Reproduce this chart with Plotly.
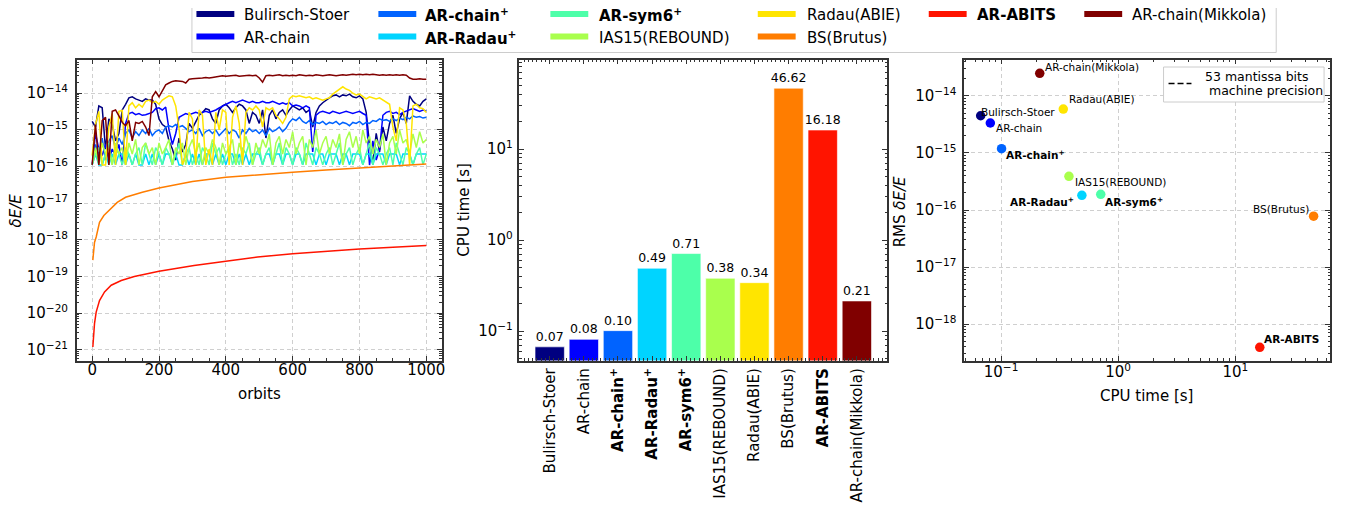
import math
import plotly.graph_objects as go

# page offset of the plot inside the browser window (default body margin)
OFF = 8
W, H = 1352, 509
FW, FH = W - OFF, H - OFF

# ---------------- data ----------------
methods = ["Bulirsch-Stoer", "AR-chain", "AR-chain+", "AR-Radau+", "AR-sym6+",
           "IAS15(REBOUND)", "Radau(ABIE)", "BS(Brutus)", "AR-ABITS", "AR-chain(Mikkola)"]
method_labels = ["Bulirsch-Stoer", "AR-chain", "<b>AR-chain<sup>+</sup></b>",
                 "<b>AR-Radau<sup>+</sup></b>", "<b>AR-sym6<sup>+</sup></b>",
                 "IAS15(REBOUND)", "Radau(ABIE)", "BS(Brutus)", "<b>AR-ABITS</b>",
                 "AR-chain(Mikkola)"]
colors = ["#000080", "#0000ff", "#0063ff", "#00d4ff", "#4dffa9",
          "#a9ff4d", "#ffe500", "#ff7d00", "#ff1400", "#800000"]

cpu_time = [0.067, 0.081, 0.101, 0.49, 0.71, 0.38, 0.34, 46.62, 16.18, 0.214]
rms_energy_error = [4.5e-15, 3.36e-15, 1.19e-15, 1.81e-16, 1.88e-16,
                    3.9e-16, 5.9e-15, 7.8e-17, 3.9e-19, 2.5e-14]
machine_precision = 1.11e-16

orbits = list(range(0, 1001, 10))

err_bulirsch_stoer = [
    1.7e-15, 1.2e-15, 4.5e-15, 4.0e-15, 3.0e-16, 2.0e-15, 1.4e-15, 5.0e-16, 8.0e-16, 3.5e-15,
    5.0e-15, 7.5e-15, 8.0e-15, 7.0e-15, 6.5e-15, 6.0e-15, 7.0e-15, 6.5e-15, 6.5e-15, 5.0e-15,
    2.0e-15, 1.4e-15, 1.2e-15, 5.0e-16, 3.0e-16, 1.5e-16, 6.0e-16, 2.5e-16, 4.0e-16, 1.5e-15,
    1.1e-15, 1.6e-15, 2.5e-15, 3.0e-15, 3.8e-15, 3.5e-15, 2.0e-15, 1.5e-15, 3.5e-15, 4.5e-15,
    5.0e-15, 4.0e-15, 3.0e-15, 4.0e-15, 5.0e-15, 4.5e-15, 3.5e-15, 1.5e-15, 3.0e-15, 2.5e-15,
    1.5e-15, 3.5e-15, 6.0e-16, 2.5e-15, 3.5e-15, 2.0e-15, 3.0e-15, 3.5e-15, 2.5e-15, 3.5e-15,
    4.5e-15, 4.0e-15, 3.5e-15, 4.0e-15, 3.0e-15, 3.5e-15, 1.2e-15, 3.0e-15, 4.5e-15, 5.5e-15,
    6.5e-15, 7.5e-15, 8.5e-15, 9.0e-15, 8.0e-15, 9.0e-15, 8.5e-15, 9.5e-15, 8.0e-15, 7.5e-15,
    8.5e-15, 7.0e-15, 3.0e-15, 4.0e-16, 1.2e-16, 8.0e-16, 2.5e-16, 1.2e-15, 5.0e-16, 1.5e-15,
    2.5e-15, 8.0e-16, 2.0e-15, 3.0e-15, 1.5e-15, 8.5e-15, 6.0e-15, 5.0e-15, 4.5e-15, 6.0e-15,
    7.0e-15]

err_ar_chain = [
    1.1e-16, 8.0e-16, 3.0e-16, 2.0e-16, 4.0e-16, 1.5e-16, 3.0e-16, 2.0e-16, 4.0e-16, 1.1e-16,
    1.5e-15, 2.8e-15, 3.0e-15, 2.6e-15, 2.8e-15, 2.5e-15, 2.6e-15, 2.8e-15, 3.0e-15, 3.8e-15,
    4.0e-15, 3.5e-15, 4.2e-15, 1.0e-15, 4.0e-16, 8.0e-16, 2.2e-15, 2.5e-15, 2.8e-15, 2.6e-15,
    2.8e-15, 3.0e-15, 2.8e-15, 3.0e-15, 3.2e-15, 3.0e-15, 3.2e-15, 3.5e-15, 4.0e-15, 4.5e-15,
    5.0e-15, 5.5e-15, 6.0e-15, 5.5e-15, 6.0e-15, 6.5e-15, 6.0e-15, 5.5e-15, 6.0e-15, 5.5e-15,
    5.5e-15, 6.0e-15, 5.5e-15, 5.5e-15, 6.0e-15, 5.5e-15, 5.0e-15, 5.5e-15, 5.0e-15, 5.5e-15,
    4.5e-15, 4.8e-15, 4.5e-15, 4.0e-15, 4.5e-15, 4.0e-15, 2.5e-16, 2.5e-15, 3.0e-15, 3.2e-15,
    3.0e-15, 2.8e-15, 3.2e-15, 3.0e-15, 2.8e-15, 3.0e-15, 3.2e-15, 3.0e-15, 2.8e-15, 3.0e-15,
    3.2e-15, 2.8e-15, 2.5e-15, 1.1e-16, 5.0e-16, 1.5e-16, 3.0e-16, 2.5e-15, 3.0e-15, 3.2e-15,
    2.8e-15, 3.0e-15, 2.6e-15, 3.0e-15, 3.2e-15, 3.5e-15, 3.8e-15, 3.5e-15, 3.2e-15, 3.5e-15,
    3.3e-15]

err_ar_chain_plus = [
    1.1e-16, 4.0e-16, 2.0e-16, 6.0e-16, 1.5e-16, 5.0e-16, 7.0e-16, 3.0e-16, 6.0e-16, 4.0e-16,
    8.0e-16, 1.0e-15, 6.0e-16, 9.0e-16, 7.0e-16, 1.0e-15, 8.0e-16, 1.1e-15, 7.0e-16, 9.0e-16,
    1.0e-15, 8.0e-16, 1.2e-15, 1.3e-15, 1.2e-15, 1.4e-15, 1.2e-15, 1.3e-15, 1.1e-15, 9.0e-16,
    1.0e-15, 8.0e-16, 1.1e-15, 7.0e-16, 9.0e-16, 1.0e-15, 8.0e-16, 1.0e-15, 7.0e-16, 9.0e-16,
    1.1e-15, 8.0e-16, 1.0e-15, 9.0e-16, 6.0e-16, 1.0e-15, 8.0e-16, 1.1e-15, 9.0e-16, 1.0e-15,
    8.0e-16, 1.0e-15, 7.0e-16, 1.1e-15, 9.0e-16, 1.0e-15, 1.2e-15, 9.0e-16, 1.1e-15, 1.6e-15,
    2.0e-15, 1.8e-15, 2.2e-15, 1.7e-15, 1.5e-15, 1.8e-15, 1.4e-15, 1.6e-15, 1.5e-15, 1.7e-15,
    1.4e-15, 1.6e-15, 1.5e-15, 1.7e-15, 1.4e-15, 1.6e-15, 1.5e-15, 1.3e-15, 1.6e-15, 1.5e-15,
    1.7e-15, 1.4e-15, 1.6e-15, 1.5e-15, 1.8e-15, 1.7e-15, 2.0e-15, 1.8e-15, 1.9e-15, 1.7e-15,
    2.0e-15, 1.8e-15, 2.1e-15, 1.9e-15, 2.2e-15, 2.0e-15, 2.4e-15, 2.2e-15, 2.3e-15, 2.1e-15,
    2.2e-15]

err_ar_radau_plus = [
    1.11e-16, 2.2e-16, 1.11e-16, 1.11e-16, 2.2e-16, 1.11e-16, 2.2e-16, 1.11e-16, 2.2e-16, 2.2e-16,
    1.11e-16, 2.2e-16, 1.11e-16, 2.2e-16, 1.11e-16, 1.11e-16, 2.2e-16, 1.11e-16, 2.2e-16, 1.11e-16,
    2.2e-16, 1.11e-16, 2.2e-16, 2.2e-16, 1.11e-16, 2.2e-16, 1.11e-16, 1.11e-16, 2.2e-16, 1.11e-16,
    2.2e-16, 1.11e-16, 2.2e-16, 1.11e-16, 2.2e-16, 2.2e-16, 1.11e-16, 2.2e-16, 1.11e-16, 2.2e-16,
    1.11e-16, 2.2e-16, 2.2e-16, 1.11e-16, 2.2e-16, 1.11e-16, 2.2e-16, 1.11e-16, 2.2e-16, 2.2e-16,
    2.2e-16, 1.11e-16, 2.2e-16, 2.2e-16, 1.11e-16, 2.2e-16, 2.2e-16, 1.11e-16, 2.2e-16, 2.2e-16,
    1.11e-16, 2.2e-16, 2.2e-16, 1.11e-16, 2.2e-16, 2.2e-16, 2.2e-16, 1.11e-16, 2.2e-16, 2.2e-16,
    1.11e-16, 2.2e-16, 2.2e-16, 2.2e-16, 1.11e-16, 2.2e-16, 2.2e-16, 1.11e-16, 2.2e-16, 2.2e-16,
    2.2e-16, 1.11e-16, 2.2e-16, 2.2e-16, 1.11e-16, 2.2e-16, 2.2e-16, 2.2e-16, 1.11e-16, 2.2e-16,
    2.2e-16, 2.2e-16, 1.11e-16, 2.2e-16, 2.2e-16, 2.2e-16, 1.11e-16, 2.2e-16, 2.2e-16, 2.2e-16,
    2.2e-16]

err_ar_sym6_plus = [
    1.11e-16, 2.2e-16, 3.3e-16, 1.11e-16, 2.2e-16, 4.4e-16, 1.11e-16, 3.3e-16, 2.2e-16, 1.11e-16,
    3.3e-16, 2.2e-16, 1.11e-16, 2.2e-16, 3.3e-16, 1.11e-16, 4.4e-16, 2.2e-16, 1.11e-16, 3.3e-16,
    2.2e-16, 1.11e-16, 3.3e-16, 2.2e-16, 1.11e-16, 2.2e-16, 4.4e-16, 1.11e-16, 2.2e-16, 3.3e-16,
    1.11e-16, 2.2e-16, 1.11e-16, 3.3e-16, 2.2e-16, 1.11e-16, 4.4e-16, 2.2e-16, 3.3e-16, 1.11e-16,
    2.2e-16, 3.3e-16, 1.11e-16, 2.2e-16, 1.11e-16, 3.3e-16, 2.2e-16, 4.4e-16, 1.11e-16, 2.2e-16,
    3.3e-16, 1.11e-16, 2.2e-16, 3.3e-16, 1.11e-16, 2.2e-16, 4.4e-16, 1.11e-16, 3.3e-16, 2.2e-16,
    1.11e-16, 3.3e-16, 2.2e-16, 1.11e-16, 4.4e-16, 2.2e-16, 1.11e-16, 3.3e-16, 2.2e-16, 1.11e-16,
    2.2e-16, 3.3e-16, 1.11e-16, 2.2e-16, 4.4e-16, 1.11e-16, 2.2e-16, 3.3e-16, 1.11e-16, 2.2e-16,
    3.3e-16, 1.11e-16, 2.2e-16, 4.4e-16, 1.11e-16, 3.3e-16, 2.2e-16, 1.11e-16, 2.2e-16, 3.3e-16,
    1.11e-16, 4.4e-16, 2.2e-16, 1.11e-16, 3.3e-16, 2.2e-16, 1.11e-16, 2.2e-16, 3.3e-16, 1.11e-16,
    2.2e-16]

err_ias15 = [
    1.11e-16, 3.3e-16, 1.11e-16, 4.4e-16, 2.2e-16, 3.3e-16, 1.11e-16, 4.4e-16, 2.2e-16, 3.3e-16,
    1.11e-16, 4.4e-16, 2.2e-16, 5.5e-16, 1.11e-16, 3.3e-16, 4.4e-16, 2.2e-16, 3.3e-16, 1.11e-16,
    4.4e-16, 2.2e-16, 3.3e-16, 5.5e-16, 1.11e-16, 3.3e-16, 2.2e-16, 4.4e-16, 1.11e-16, 3.3e-16,
    5.5e-16, 2.2e-16, 4.4e-16, 1.11e-16, 3.3e-16, 2.2e-16, 5.5e-16, 3.3e-16, 1.11e-16, 4.4e-16,
    2.2e-16, 3.3e-16, 5.5e-16, 1.11e-16, 4.4e-16, 2.2e-16, 6.7e-16, 3.3e-16, 1.11e-16, 4.4e-16,
    2.2e-16, 5.5e-16, 3.3e-16, 7.8e-16, 1.11e-16, 4.4e-16, 6.7e-16, 2.2e-16, 5.5e-16, 3.3e-16,
    8.9e-16, 2.2e-16, 4.4e-16, 6.7e-16, 1.11e-16, 5.5e-16, 3.3e-16, 1.0e-15, 2.2e-16, 4.4e-16,
    6.7e-16, 2.2e-16, 5.5e-16, 3.3e-16, 7.8e-16, 1.11e-16, 5.5e-16, 8.9e-16, 3.3e-16, 6.7e-16,
    2.2e-16, 1.0e-15, 4.4e-16, 6.7e-16, 2.2e-16, 5.5e-16, 3.3e-16, 7.8e-16, 1.11e-16, 4.4e-16,
    6.7e-16, 2.2e-16, 1.0e-15, 4.4e-16, 5.5e-16, 2.2e-16, 7.8e-16, 3.3e-16, 8.9e-16, 4.4e-16,
    5.5e-16]

err_radau_abie = [
    2.0e-16, 1.4e-15, 3.2e-15, 1.11e-16, 1.11e-16, 1.2e-15, 2.8e-15, 1.11e-16, 3.2e-15, 3.4e-15,
    1.11e-16, 4.5e-15, 5.5e-15, 4.0e-15, 5.0e-15, 4.2e-15, 6.0e-15, 6.5e-15, 5.5e-15, 6.0e-15,
    5.0e-15, 6.5e-15, 7.5e-15, 8.5e-15, 8.0e-15, 4.5e-15, 1.1e-15, 1.11e-16, 2.0e-16, 3.0e-15,
    2.0e-15, 1.11e-16, 3.5e-15, 2.5e-15, 1.11e-16, 3.0e-16, 1.11e-16, 3.0e-15, 1.0e-15, 3.5e-15,
    3.0e-15, 1.11e-16, 2.2e-15, 4.5e-15, 1.5e-15, 1.11e-16, 3.0e-15, 4.0e-15, 3.5e-15, 4.5e-15,
    3.5e-15, 1.2e-15, 4.0e-15, 3.5e-15, 4.0e-15, 2.5e-15, 2.0e-15, 1.5e-15, 2.2e-15, 7.0e-15,
    8.5e-15, 8.0e-15, 8.5e-15, 8.0e-15, 7.5e-15, 8.0e-15, 7.0e-15, 7.5e-15, 7.0e-15, 6.5e-15,
    7.0e-15, 7.5e-15, 9.5e-15, 1.1e-14, 1.3e-14, 1.5e-14, 1.3e-14, 1.2e-14, 1.0e-14, 9.0e-15,
    9.5e-15, 8.0e-15, 7.0e-15, 8.0e-15, 7.5e-15, 7.0e-15, 7.5e-15, 6.5e-15, 5.5e-15, 5.0e-15,
    1.2e-15, 5.0e-16, 4.0e-15, 3.5e-15, 1.5e-15, 1.11e-16, 4.5e-15, 5.0e-15, 4.0e-15, 3.8e-15,
    3.0e-15]

err_mikkola = [
    1.11e-16, 1.4e-15, 1.11e-16, 1.8e-15, 2.2e-15, 1.11e-16, 3.2e-15, 3.5e-15, 2.4e-15, 1.6e-15,
    1.3e-15, 1.8e-15, 5.0e-16, 1.6e-15, 1.5e-15, 1.7e-15, 1.2e-15, 7.0e-16, 8.0e-15, 1.1e-14,
    8.0e-15, 1.2e-14, 1.7e-14, 1.9e-14, 2.1e-14, 2.2e-14, 2.2e-14, 2.1e-14, 1.9e-14, 2.4e-14,
    2.5e-14, 2.5e-14, 2.6e-14, 2.6e-14, 2.7e-14, 2.6e-14, 2.7e-14, 2.8e-14, 2.9e-14, 3.0e-14,
    2.9e-14, 3.0e-14, 3.0e-14, 3.1e-14, 2.9e-14, 3.0e-14, 3.0e-14, 3.1e-14, 3.0e-14, 3.1e-14,
    2.6e-14, 2.0e-14, 3.0e-14, 3.1e-14, 3.0e-14, 3.1e-14, 3.2e-14, 3.0e-14, 3.1e-14, 3.0e-14,
    3.1e-14, 3.0e-14, 3.2e-14, 3.1e-14, 3.0e-14, 3.1e-14, 3.0e-14, 3.2e-14, 3.1e-14, 3.0e-14,
    3.1e-14, 3.2e-14, 3.1e-14, 3.0e-14, 3.1e-14, 3.2e-14, 3.1e-14, 3.2e-14, 3.3e-14, 3.2e-14,
    3.3e-14, 3.2e-14, 3.3e-14, 3.2e-14, 3.3e-14, 3.2e-14, 3.1e-14, 3.2e-14, 3.1e-14, 3.2e-14,
    3.1e-14, 3.2e-14, 3.1e-14, 3.2e-14, 3.1e-14, 2.6e-14, 2.4e-14, 2.4e-14, 2.5e-14, 2.4e-14,
    2.4e-14]

brutus_orbits = [2, 4, 7, 12, 22, 35, 50, 75, 100, 150, 200, 300, 400, 500, 600, 700, 800, 900, 1000]
err_brutus = [2.8e-19, 5.5e-19, 8.5e-19, 1.2e-18, 3.0e-18, 4.6e-18, 6.3e-18, 1.05e-17, 1.45e-17,
              2.0e-17, 2.6e-17, 3.9e-17, 5.1e-17, 6.1e-17, 7.0e-17, 8.1e-17, 9.2e-17, 1.05e-16, 1.18e-16]

abits_orbits = [2, 4, 7, 12, 22, 37, 57, 87, 126, 200, 305, 400, 495, 600, 700, 800, 900, 1000]
err_abits = [1.2e-21, 2.2e-21, 5.2e-21, 1.07e-20, 2.2e-20, 3.8e-20, 5.8e-20, 7.8e-20, 1.0e-19,
             1.4e-19, 2.0e-19, 2.6e-19, 3.4e-19, 4.2e-19, 4.9e-19, 5.6e-19, 6.3e-19, 7.0e-19]

series = [err_bulirsch_stoer, err_ar_chain, err_ar_chain_plus, err_ar_radau_plus,
          err_ar_sym6_plus, err_ias15, err_radau_abie, err_brutus, err_abits, err_mikkola]
series_x = [orbits, orbits, orbits, orbits, orbits, orbits, orbits,
            brutus_orbits, abits_orbits, orbits]

# ---------------- helpers ----------------
FONT = "DejaVu Sans"


def px_x(px):
    return (px - OFF) / FW


def px_y(py):
    return 1 - (py - OFF) / FH


def log_ticks(lo, hi):
    major = [10.0 ** k for k in range(lo, hi + 1)]
    text = ["10<sup>%s</sup>" % str(k).replace("-", "\u2212") for k in range(lo, hi + 1)]
    minor = [m * 10.0 ** k for k in range(lo - 1, hi + 1) for m in range(2, 10)]
    return major, text, minor


fig = go.Figure()

# ---------------- left panel: energy error vs orbits ----------------
for i in range(len(methods)):
    fig.add_trace(go.Scatter(x=series_x[i], y=series[i], mode="lines",
                             line=dict(color=colors[i], width=1.5),
                             name=methods[i], xaxis="x", yaxis="y", showlegend=False))

# ---------------- middle panel: CPU time bars ----------------
fig.add_trace(go.Bar(x=list(range(len(methods))), y=cpu_time,
                     marker=dict(color=colors, line=dict(color="white", width=0.6)),
                     width=0.86, texttemplate="%{y:.2f}", textposition="outside",
                     textfont=dict(family=FONT, size=12.5, color="black"),
                     cliponaxis=False, constraintext="none",
                     xaxis="x2", yaxis="y2", showlegend=False))

# ---------------- right panel: RMS error vs CPU time ----------------
fig.add_trace(go.Scatter(x=cpu_time, y=rms_energy_error, mode="markers",
                         marker=dict(color=colors, size=9.5, line=dict(width=0)),
                         xaxis="x3", yaxis="y3", showlegend=False))

axis_common = dict(showline=True, linecolor="#333333", linewidth=1.5, mirror="allticks",
                   ticks="inside", ticklen=5, tickwidth=1, tickcolor="#333333",
                   showgrid=True, gridcolor="#cfcfcf", griddash="4px,3px", gridwidth=1,
                   zeroline=False, tickfont=dict(family=FONT, size=15, color="black"))
minor_log = lambda vals: dict(tickmode="array", tickvals=vals, ticks="inside", ticklen=2.5,
                              tickcolor="#333333", showgrid=False)

y1_major, y1_text, y1_minor = log_ticks(-21, -14)
y2_major, y2_text, y2_minor = log_ticks(-1, 1)
x3_major, x3_text, x3_minor = log_ticks(-1, 1)
y3_major, y3_text, y3_minor = log_ticks(-18, -14)

y_dom = [px_y(360.5), px_y(59.5)]

fig.update_layout(
    width=FW, height=FH, margin=dict(l=0, r=0, t=0, b=0),
    paper_bgcolor="white", plot_bgcolor="white", showlegend=False,
    font=dict(family=FONT, size=15, color="black"),
    xaxis=dict(axis_common, domain=[px_x(77), px_x(443)], range=[-46, 1046],
               tickmode="array", tickvals=[0, 200, 400, 600, 800, 1000],
               ticklabelstandoff=-5,
               minor=dict(tickmode="linear", tick0=0, dtick=50, ticks="inside", ticklen=2.5,
                          tickcolor="#333333", showgrid=False),
               anchor="y"),
    yaxis=dict(axis_common, domain=y_dom, type="log", range=[-21.29, -13.08],
               tickmode="array", tickvals=y1_major, ticktext=y1_text, ticklabelstandoff=4,
               minor=minor_log(y1_minor), anchor="x"),
    xaxis2=dict(axis_common, domain=[px_x(521), px_x(889.5)], range=[-0.886, 9.88],
                tickmode="array", tickvals=list(range(len(methods))), ticktext=method_labels,
                tickangle=-90, showgrid=False,
                minor=dict(tickmode="linear", tick0=0, dtick=0.125, ticks="inside", ticklen=2.5,
                           tickcolor="#333333", showgrid=False),
                anchor="y2"),
    yaxis2=dict(axis_common, domain=y_dom, type="log", range=[-1.324, 1.984],
                tickmode="array", tickvals=y2_major, ticktext=y2_text, showgrid=False,
                ticklabelstandoff=2, minor=minor_log(y2_minor), anchor="x2"),
    xaxis3=dict(axis_common, domain=[px_x(967), px_x(1334)], type="log", range=[-1.315, 1.809],
                tickmode="array", tickvals=x3_major, ticktext=x3_text, ticklabelstandoff=-3,
                minor=minor_log(x3_minor), anchor="y3"),
    yaxis3=dict(axis_common, domain=y_dom, type="log", range=[-18.64, -13.36],
                tickmode="array", tickvals=y3_major, ticktext=y3_text, ticklabelstandoff=3,
                minor=minor_log(y3_minor), anchor="x3"),
)

shapes = []
annotations = []

# machine precision lines
shapes.append(dict(type="line", xref="x domain", yref="y", x0=0, x1=1,
                   y0=math.log10(machine_precision), y1=math.log10(machine_precision),
                   line=dict(color="black", width=2, dash="6px,3px"), layer="above"))
shapes.append(dict(type="line", xref="x3 domain", yref="y3", x0=0, x1=1,
                   y0=math.log10(machine_precision), y1=math.log10(machine_precision),
                   line=dict(color="black", width=1.5, dash="6px,3px"), layer="above"))


def paper_text(text, x, y, size=15, angle=0, xanchor="center", yanchor="middle", align="center"):
    annotations.append(dict(text=text, x=px_x(x), y=px_y(y), xref="paper", yref="paper",
                            showarrow=False, textangle=angle, xanchor=xanchor, yanchor=yanchor,
                            align=align, font=dict(family=FONT, size=size, color="black")))


# axis titles
paper_text("<i>δE/E</i>", 16.5, 210, angle=-90)
paper_text("orbits", 260, 394)
paper_text("CPU time [s]", 465, 210, angle=-90)
paper_text("RMS <i>δE/E</i>", 903, 212, angle=-90)
paper_text("CPU time [s]", 1150, 396)

# scatter point labels (offsets in px)
label_offsets = [(-2, 3.4, "left"), (3.7, -5.3, "left"), (2.3, -5.6, "left"), (-6, -6.4, "right"),
                 (2.4, -7.4, "left"), (3.7, -5.7, "left"), (3.7, 9.7, "left"), (-2.3, 7.3, "right"),
                 (2.4, 8.6, "left"), (3.5, 6.6, "left")]
for i in range(len(methods)):
    dx, dy, anchor = label_offsets[i]
    annotations.append(dict(text=method_labels[i], x=math.log10(cpu_time[i]),
                            y=math.log10(rms_energy_error[i]), xref="x3", yref="y3",
                            showarrow=False, xanchor=anchor, yanchor="middle",
                            xshift=dx, yshift=dy,
                            font=dict(family=FONT, size=10.5, color="black")))

# inset legend of right panel
shapes.append(dict(type="rect", xref="paper", yref="paper", x0=px_x(1167), x1=px_x(1328),
                   y0=px_y(102), y1=px_y(67), line=dict(color="#cccccc", width=1),
                   fillcolor="white", layer="above"))
shapes.append(dict(type="line", xref="paper", yref="paper", x0=px_x(1172), x1=px_x(1195),
                   y0=px_y(83.5), y1=px_y(83.5), line=dict(color="black", width=1.5, dash="6px,3px"),
                   layer="above"))
paper_text("53 mantissa bits", 1206.5, 76, size=12.5, xanchor="left")
paper_text("\u00a0machine precision", 1206.5, 90, size=12.5, xanchor="left")

# top legend
shapes.append(dict(type="rect", xref="paper", yref="paper", x0=px_x(192.5), x1=px_x(1280),
                   y0=px_y(52.5), y1=px_y(-4), line=dict(color="#cccccc", width=1),
                   fillcolor="white"))
legend_cols = [(197, 243.5), (379.5, 425.5), (552, 599.5), (760, 808.5), (931.5, 979), (1087.5, 1134.5)]
legend_rows = [14, 36.5]
for i in range(len(methods)):
    col = i // 2 if i < 8 else i - 4
    row = i % 2 if i < 8 else 0
    sx, tx = legend_cols[col]
    cy = legend_rows[row]
    shapes.append(dict(type="rect", xref="paper", yref="paper", x0=px_x(sx), x1=px_x(sx + 38),
                       y0=px_y(cy + 3), y1=px_y(cy - 3), line=dict(width=0),
                       fillcolor=colors[i]))
    annotations.append(dict(text=method_labels[i], x=px_x(tx), y=px_y(cy + 1), xref="paper",
                            yref="paper", showarrow=False, xanchor="left", yanchor="middle",
                            borderpad=0, font=dict(family=FONT, size=15, color="black")))

fig.update_layout(shapes=shapes, annotations=annotations)
fig.write_html("out.html")
